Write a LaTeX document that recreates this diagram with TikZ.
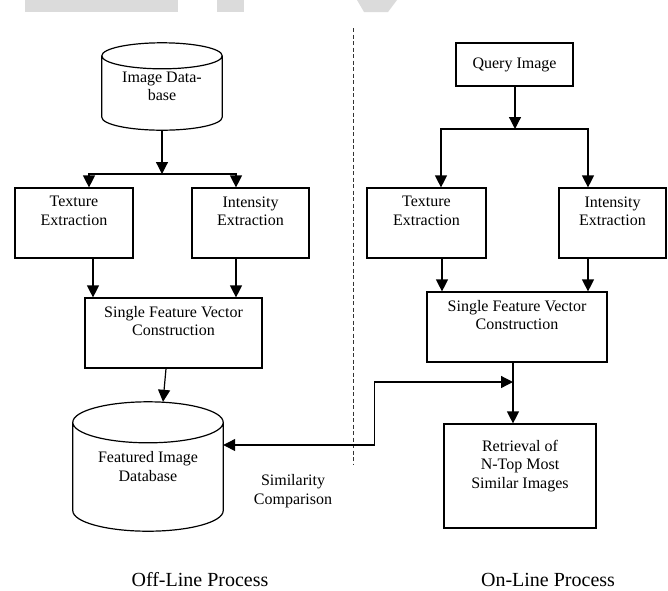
\documentclass[tikz,border=0pt]{standalone}
\usepackage{fontspec}
\setmainfont{Liberation Serif}
\usepackage{tikz}
\usetikzlibrary{arrows.meta,calc,positioning}
\tikzset{
    %Define standard arrow tip
    >={Triangle[length=12pt,width=12pt]},
    %Define style for boxes
    procbox/.style={
           rectangle,
           draw=black, line width=1.2pt,
           inner sep=0pt,
           align=center,
           font=\fontsize{16}{18.5}\selectfont},
    dbase/.style={
           rectangle,
           inner sep=0pt,
           align=center,
           font=\fontsize{16}{18.5}\selectfont},
    plain/.style={
           align=center,
           font=\fontsize{16}{18.5}\selectfont},
    caption/.style={
           anchor=base,
           font=\fontsize{20}{24}\selectfont},
    % Define arrow style
    pil/.style={
           ->,
           line width=1.2pt},
    sepline/.style={
           black!80, line width=0.9pt,
           dash pattern=on 4pt off 2.5pt},
    watermark/.style={fill=black!14, draw=none}
}
% cylinder drawn round a named node: node, half height of the lid
\newcommand{\drawdb}[2]{%
  \draw[line width=1.2pt] let \p1=(#1.north west), \p2=(#1.south east), \n1={(\x2-\x1)/2} in
    (\x1,\y1-#2) -- (\x1,\y2+#2) arc[start angle=180,end angle=360,x radius=\n1,y radius=#2]
    -- (\x2,\y1-#2)
    (\x1+\n1,\y1-#2) ellipse[x radius=\n1,y radius=#2];}

\begin{document}
\begin{tikzpicture}[x=1pt,y=-1pt]
\useasboundingbox (0,0) rectangle (668,590);
% watermark pieces
\fill[watermark] (25,0) rectangle (178,12);
\fill[watermark] (217,0) rectangle (244,12);
\fill[watermark] (357,0) -- (397,0) -- (388,12) -- (364,12) -- cycle;
% separator
\draw[sepline] (353,28) -- (353,465);

% off-line side
\node[dbase, minimum width=120pt, minimum height=87pt] (imgdb) at (162,86.5) {Image Data-\\base};
\drawdb{imgdb}{13pt}
\node[procbox, minimum width=118pt, minimum height=70pt] (texL) at (74,223) {Texture\\Extraction\\\strut};
\node[procbox, minimum width=117pt, minimum height=70pt] (intL) at (250.5,223) {Intensity\\Extraction\\\strut};
\node[procbox, minimum width=177pt, minimum height=70pt] (sfvL) at (173.5,333) {Single Feature Vector\\Construction\\\strut};
\node[dbase, minimum width=150pt, minimum height=129pt] (fdb) at (148,466.5) {Featured Image\\Database};
\drawdb{fdb}{20.5pt}

% on-line side
\node[procbox, minimum width=117pt, minimum height=43pt] (qimg) at (514.5,64.5) {Query Image};
\node[procbox, minimum width=119pt, minimum height=70pt] (texR) at (426.5,223) {Texture\\Extraction\\\strut};
\node[procbox, minimum width=107pt, minimum height=70pt] (intR) at (612.5,223) {Intensity\\Extraction\\\strut};
\node[procbox, minimum width=180pt, minimum height=70pt] (sfvR) at (517,327) {Single Feature Vector\\Construction\\\strut};
\node[procbox, minimum width=152pt, minimum height=104pt] (retr) at (520,476) {Retrieval of\\N-Top Most\\Similar Images\\\strut};

\node[plain] (simtxt) at (293,491) {Similarity\\Comparison};
\node[caption] (offtxt) at (200,586) {Off-Line Process};
\node[caption] (ontxt) at (548,586) {On-Line Process};

\coordinate (jL) at (162,174);
\coordinate (jR) at (515,129);
\coordinate (cmp) at (513,382);

% connectors
\draw[pil] (imgdb.south) -- (jL);
\draw[pil] (jL) -| ([xshift=15pt]texL.north);
\draw[pil] (jL) -| ([xshift=-14.5pt]intL.north);
\draw[pil] ([xshift=19pt]texL.south) -- ([xshift=19pt]texL.south |- sfvL.north);
\draw[pil] ([xshift=-14.5pt]intL.south) -- ([xshift=-14.5pt]intL.south |- sfvL.north);
\draw[pil] ([xshift=-7.5pt]sfvL.south) -- ([xshift=15pt]fdb.north);

\draw[pil] ([xshift=0.5pt]qimg.south) -- (jR);
\draw[pil] (jR) -| ([xshift=14.5pt]texR.north);
\draw[pil] (jR) -| ([xshift=-24.5pt]intR.north);
\draw[pil] ([xshift=15.5pt]texR.south) -- ([xshift=15.5pt]texR.south |- sfvR.north);
\draw[pil] ([xshift=-24.5pt]intR.south) -- ([xshift=-24.5pt]intR.south |- sfvR.north);
\draw[pil] ([xshift=-4pt]sfvR.south) -- ([xshift=-4pt]sfvR.south |- retr.north);
\draw[pil, <->] ([yshift=21.5pt]fdb.east) -- ++(151,0) |- (cmp);
\end{tikzpicture}
\end{document}
